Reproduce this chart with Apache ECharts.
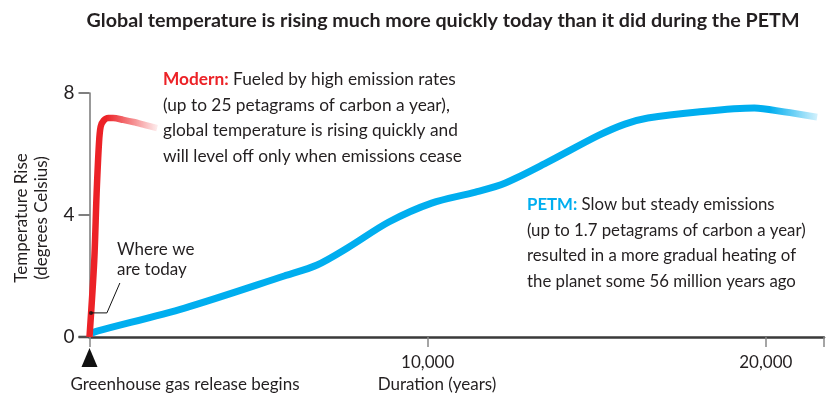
<!DOCTYPE html>
<html>
<head>
<meta charset="utf-8">
<script src="https://cdn.jsdelivr.net/npm/echarts@6/dist/echarts.min.js"></script>
<style>
  html, body { margin: 0; padding: 0; background: #fff; }
  #chart { width: 827px; height: 397px; }
</style>
</head>
<body>
<div id="chart"></div>
<script>
// Temperature rise (°C) against years since greenhouse gas release began
const modernYears = [0, 140, 210, 280, 330, 420, 560, 700, 1000, 1300, 1650, 2000];
const modernTemp  = [0, 2.5, 4.7, 6.35, 6.9, 7.1, 7.18, 7.18, 7.12, 7.05, 6.95, 6.85];

const petmYears = [74, 250, 2813, 5758, 6730, 7673, 8851, 10118, 11414, 12298, 13564, 15037, 15832, 16510, 17983, 19661, 20545, 21517];
const petmTemp  = [0.13, 0.2, 0.95, 2.0, 2.36, 2.95, 3.77, 4.39, 4.75, 5.05, 5.74, 6.6, 6.98, 7.18, 7.38, 7.51, 7.38, 7.21];

const yTicks = [0, 4, 8];
const xTicks = [10000, 20000];

// "Where we are today" point on the modern curve, plus its leader line
const todayPoint = [44, 0.79];
const leaderPath = [[44, 0.79], [515, 0.79], [898, 1.77]];

const FONT = 'Lato';
const INK = '#231f20';
const RED = '#ec2227';
const BLUE = '#00aeef';

const chart = echarts.init(document.getElementById('chart'), null, { renderer: 'canvas' });

const zip = (xs, ys) => xs.map((x, i) => [x, ys[i]]);

chart.setOption({
  animation: false,
  grid: { left: 89.5, right: 0, top: 93, bottom: 60, containLabel: false },
  xAxis: {
    type: 'value',
    min: 0,
    max: 21720,
    interval: 10000,
    axisLine: { show: true, lineStyle: { color: '#3a3a3a', width: 2.5 } },
    axisTick: { show: true, length: 10, lineStyle: { color: '#888', width: 1.5 } },
    axisLabel: {
      margin: 17,
      fontFamily: FONT, fontSize: 17, color: INK,
      formatter: v => xTicks.includes(v) ? v.toLocaleString('en-US') : ''
    },
    splitLine: { show: false }
  },
  yAxis: {
    type: 'value',
    min: 0,
    max: 8,
    interval: 4,
    axisLine: { show: true, lineStyle: { color: '#777', width: 1.5 } },
    axisTick: { show: true, length: 11, lineStyle: { color: '#555', width: 1.5 } },
    axisLabel: {
      margin: 15,
      fontFamily: FONT, fontSize: 19, color: INK,
      formatter: v => yTicks.includes(v) ? String(v) : ''
    },
    splitLine: { show: false }
  },
  series: [
    {
      name: 'PETM',
      type: 'line',
      data: zip(petmYears, petmTemp),
      smooth: 0.3,
      showSymbol: false,
      lineStyle: {
        width: 7,
        cap: 'butt',
        color: new echarts.graphic.LinearGradient(0, 0, 1, 0, [
          { offset: 0, color: BLUE },
          { offset: 0.93, color: BLUE },
          { offset: 1, color: 'rgba(0,174,239,0.12)' }
        ])
      },
      z: 2
    },
    {
      name: 'Modern',
      type: 'line',
      data: zip(modernYears, modernTemp),
      smooth: 0.3,
      showSymbol: false,
      lineStyle: {
        width: 6.5,
        cap: 'butt',
        color: new echarts.graphic.LinearGradient(0, 0, 1, 0, [
          { offset: 0, color: RED },
          { offset: 0.27, color: RED },
          { offset: 1, color: 'rgba(236,34,39,0.03)' }
        ])
      },
      z: 3
    },
    {
      name: 'leader',
      type: 'line',
      data: leaderPath,
      showSymbol: false,
      lineStyle: { width: 1, color: '#111' },
      z: 4
    },
    {
      name: 'today',
      type: 'scatter',
      data: [todayPoint],
      symbolSize: 4,
      itemStyle: { color: '#111' },
      z: 5
    }
  ]
});

// Marker under the origin showing when the release starts
const origin = chart.convertToPixel({ gridIndex: 0 }, [0, 0]);

chart.setOption({
  graphic: [
    {
      type: 'text',
      x: 443, y: 21,
      style: {
        text: 'Global temperature is rising much more quickly today than it did during the PETM',
        fontFamily: FONT, fontWeight: 'bold', fontSize: 19.7, fill: INK,
        align: 'center', verticalAlign: 'middle'
      }
    },
    {
      type: 'line',
      shape: { x1: origin[0] - 11, y1: origin[1], x2: origin[0], y2: origin[1] },
      style: { stroke: '#3a3a3a', lineWidth: 2.5 }
    },
    {
      type: 'polygon',
      shape: { points: [[origin[0], origin[1] + 11], [origin[0] - 8, origin[1] + 30], [origin[0] + 8, origin[1] + 30]] },
      style: { fill: '#111' }
    },
    {
      type: 'text',
      x: 185, y: 385,
      style: { text: 'Greenhouse gas release begins', fontFamily: FONT, fontSize: 17, fill: INK, align: 'center', verticalAlign: 'middle' }
    },
    {
      type: 'text',
      x: 437, y: 385,
      style: { text: 'Duration (years)', fontFamily: FONT, fontSize: 17, fill: INK, align: 'center', verticalAlign: 'middle' }
    },
    {
      type: 'text',
      x: 32, y: 218,
      rotation: Math.PI / 2,
      style: {
        text: 'Temperature Rise\n(degrees Celsius)',
        fontFamily: FONT, fontSize: 17, lineHeight: 20, fill: INK,
        align: 'center', verticalAlign: 'middle'
      }
    },
    {
      type: 'text',
      x: 117, y: 240,
      style: {
        text: 'Where we\nare today',
        fontFamily: FONT, fontSize: 17, lineHeight: 20, fill: INK,
        align: 'left', verticalAlign: 'top'
      }
    },
    {
      type: 'text',
      x: 163, y: 67,
      style: {
        text: '{m|Modern:} Fueled by high emission rates\n(up to 25 petagrams of carbon a year),\nglobal temperature is rising quickly and\nwill level off only when emissions cease',
        fontFamily: FONT, fontSize: 17.3, lineHeight: 25.5, fill: INK,
        align: 'left', verticalAlign: 'top',
        rich: { m: { fontFamily: FONT, fontSize: 17.3, fontWeight: 'bold', fill: RED, lineHeight: 25.5 } }
      }
    },
    {
      type: 'text',
      x: 527, y: 192,
      style: {
        text: '{p|PETM:} Slow but steady emissions\n(up to 1.7 petagrams of carbon a year)\nresulted in a more gradual heating of\nthe planet some 56 million years ago',
        fontFamily: FONT, fontSize: 16.8, lineHeight: 25.5, fill: INK,
        align: 'left', verticalAlign: 'top',
        rich: { p: { fontFamily: FONT, fontSize: 16.8, fontWeight: 'bold', fill: BLUE, lineHeight: 25.5 } }
      }
    }
  ]
});
</script>
</body>
</html>
